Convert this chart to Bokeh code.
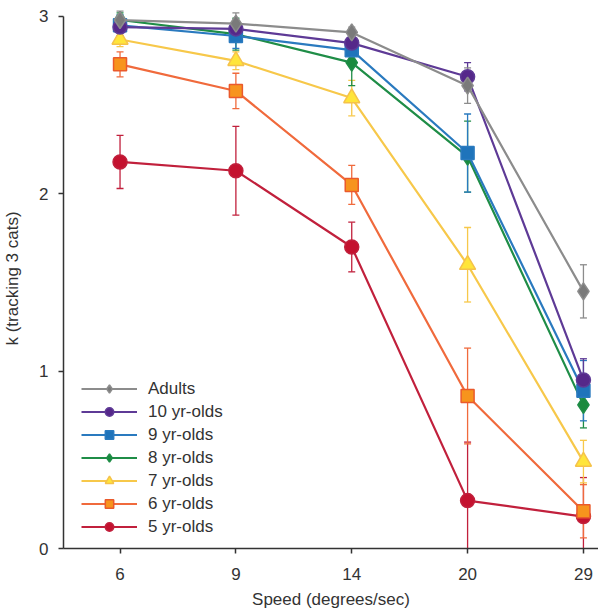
from bokeh.plotting import figure
from bokeh.models import ColumnDataSource, Whisker, TeeHead, Legend, LegendItem, FixedTicker
from bokeh.embed import file_html
from bokeh.resources import INLINE

speeds = ["6", "9", "14", "20", "29"]
groups = ["Adults", "10 yr-olds", "9 yr-olds", "8 yr-olds", "7 yr-olds", "6 yr-olds", "5 yr-olds"]
adults = [2.98, 2.96, 2.91, 2.61, 1.45]
yr10 = [2.94, 2.93, 2.85, 2.66, 0.95]
yr9 = [2.95, 2.89, 2.81, 2.23, 0.89]
yr8 = [2.98, 2.90, 2.74, 2.21, 0.81]
yr7 = [2.87, 2.75, 2.54, 1.60, 0.49]
yr6 = [2.73, 2.58, 2.05, 0.86, 0.21]
yr5 = [2.18, 2.13, 1.70, 0.27, 0.18]
adults_err = [0.05, 0.06, 0.03, 0.10, 0.15]
yr10_err = [0.05, 0.04, 0.05, 0.08, 0.12]
yr9_err = [0.06, 0.07, 0.06, 0.22, 0.17]
yr8_err = [0.04, 0.09, 0.13, 0.20, 0.13]
yr7_err = [0.04, 0.05, 0.10, 0.21, 0.12]
yr6_err = [0.07, 0.10, 0.11, 0.27, 0.15]
yr5_err = [0.15, 0.25, 0.14, 0.33, 0.22]

values = [adults, yr10, yr9, yr8, yr7, yr6, yr5]
errors = [adults_err, yr10_err, yr9_err, yr8_err, yr7_err, yr6_err, yr5_err]
markers = ["diamond", "circle", "square", "diamond", "triangle", "square", "circle"]
sizes = [17, 14, 13, 17, 16, 13, 14]
line_cols = ["#8c8c8c", "#5e3a96", "#2a7abf", "#1f8d47", "#f7c84a", "#f06a3c", "#c1203c"]
fill_cols = ["#7a7a7a", "#55288a", "#1f74bb", "#1a8a3e", "#ffe53a", "#f7941d", "#c4122f"]
edge_cols = ["#8c8c8c", "#5e3a96", "#2a7abf", "#1f8d47", "#f5c24a", "#ea5a2c", "#c1203c"]

xs = list(range(len(speeds)))

p = figure(width=598, height=612, output_backend="svg", toolbar_location=None,
           x_range=(-0.488, 4.13), y_range=(0, 3.045),
           min_border_left=61, min_border_right=0, min_border_top=8, min_border_bottom=64)
p.xgrid.visible = False
p.ygrid.visible = False
p.outline_line_color = None
p.background_fill_color = "white"

font = "Liberation Sans"
for ax in (p.xaxis[0], p.yaxis[0]):
    ax.axis_line_color = "#333333"
    ax.axis_line_width = 1.5
    ax.major_tick_line_color = "#333333"
    ax.major_tick_line_width = 1.5
    ax.major_tick_out = 5
    ax.major_tick_in = 0
    ax.minor_tick_line_color = None
    ax.major_label_text_font = font
    ax.major_label_text_font_size = "17px"
    ax.major_label_text_color = "#333333"
    ax.axis_label_text_font = font
    ax.axis_label_text_font_size = "17px"
    ax.axis_label_text_font_style = "normal"
    ax.axis_label_text_color = "#333333"

p.xaxis.ticker = FixedTicker(ticks=xs)
p.xaxis.major_label_overrides = {i: s for i, s in enumerate(speeds)}
p.xaxis.axis_label = "Speed (degrees/sec)"
p.xaxis.major_label_standoff = 14
p.xaxis.axis_label_standoff = 7
p.yaxis.ticker = FixedTicker(ticks=[0, 1, 2, 3])
p.yaxis.bounds = (0, 3)
p.yaxis.axis_label = "k (tracking 3 cats)"
p.yaxis.major_label_standoff = 10
p.yaxis.axis_label_standoff = 14

items = []
order = list(range(len(groups)))[::-1]
rend = {}
for i in order:
    v = values[i]
    e = errors[i]
    src = ColumnDataSource(dict(x=xs, y=v,
                                upper=[a + b for a, b in zip(v, e)],
                                lower=[a - b for a, b in zip(v, e)]))
    w = Whisker(source=src, base="x", upper="upper", lower="lower", dimension="height",
                line_color=line_cols[i], line_width=1.3,
                upper_head=TeeHead(size=7, line_color=line_cols[i], line_width=1.3),
                lower_head=TeeHead(size=7, line_color=line_cols[i], line_width=1.3))
    p.add_layout(w)
    ln = p.line("x", "y", source=src, line_color=line_cols[i], line_width=2.2)
    sc = p.scatter("x", "y", source=src, marker=markers[i], size=sizes[i],
                   fill_color=fill_cols[i], line_color=edge_cols[i], line_width=1.5)
    rend[i] = [ln, sc]

for i in range(len(groups)):
    items.append(LegendItem(label=groups[i], renderers=rend[i]))

legend = Legend(items=items, location=(18, 11), glyph_width=56, glyph_height=21,
                label_height=21, spacing=2, label_standoff=11, padding=0, margin=0,
                border_line_color=None, background_fill_alpha=0,
                label_text_font=font, label_text_font_size="17px", label_text_color="#333333")
p.add_layout(legend, "center")

open("out.html", "w").write(file_html(p, INLINE))
